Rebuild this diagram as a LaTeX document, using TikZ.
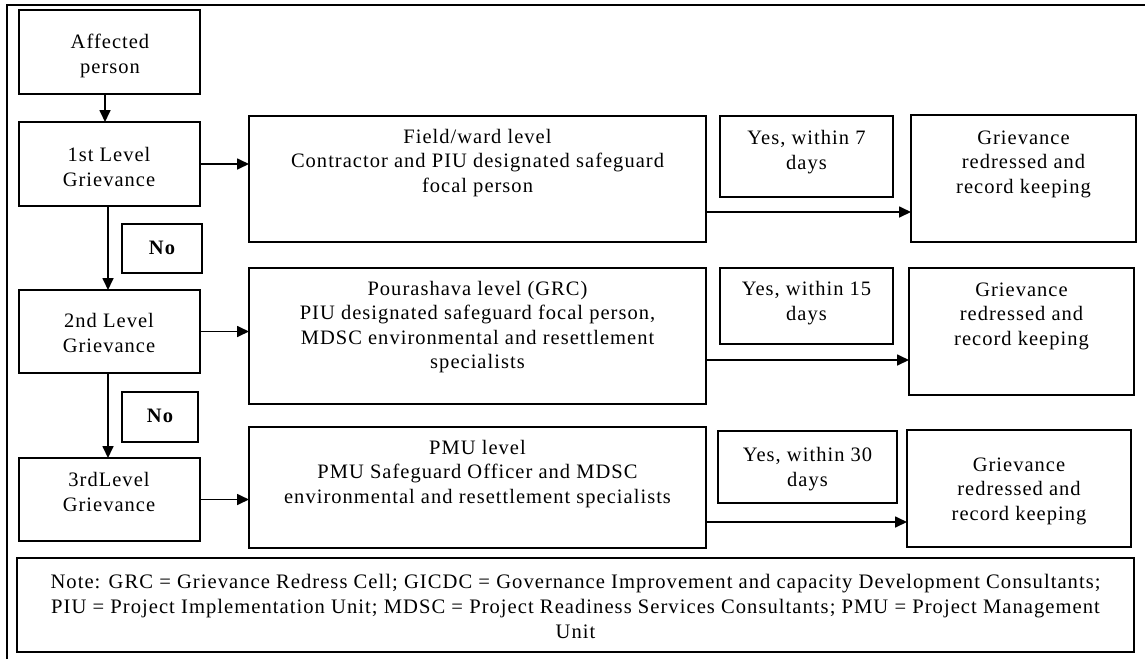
\documentclass[tikz,border=0pt]{standalone}
\usepackage{fontspec}
\setmainfont{Liberation Serif}[LetterSpace=5]
\usetikzlibrary{arrows.meta}
\tikzset{
  box/.style={draw, line width=1.7pt, inner sep=0pt, outer sep=0pt},
  txt/.style={align=center, inner sep=0pt, font=\fontsize{20.5}{24.5}\selectfont},
  notetxt/.style={align=center, inner sep=0pt, font=\fontsize{20.6}{25}\selectfont},
  boldtxt/.style={inner sep=0pt, font=\fontsize{20.5}{24.5}\selectfont\bfseries},
  arr/.style={line width=1.7pt, -{Triangle[length=12pt,width=11pt]}},
  frame/.style={line width=1.3pt},
}
\newcommand\mybox[5]{\node[box, minimum width={(#4-#2)*1pt}, minimum height={(#5-#3)*1pt}] (#1) at ({(#2+#4)/2},{(#3+#5)/2}) {};}
\begin{document}
\begin{tikzpicture}[x=1pt,y=-1pt]
\useasboundingbox (0,0) rectangle (1145,659);
\draw[frame] (7,659) -- (7,5) -- (1145,5);
% left column
\mybox{aff}{19}{10}{200}{94}
\mybox{l1}{19}{122}{200}{206}
\mybox{l2}{19}{290}{200}{373}
\mybox{l3}{19}{458}{200}{541}
\mybox{no1}{122}{224}{202}{273}
\mybox{no2}{122}{392}{198}{442}
% middle column
\mybox{field}{249}{116}{706}{242}
\mybox{pour}{249}{268}{706}{404}
\mybox{pmu}{249}{427}{706}{548}
% yes boxes
\mybox{yes1}{720}{116}{893}{197}
\mybox{yes2}{720}{268}{893}{344}
\mybox{yes3}{718}{431}{897}{503}
% result boxes
\mybox{g1}{911}{115}{1136}{242}
\mybox{g2}{909}{268}{1134}{395}
\mybox{g3}{907}{430}{1131}{547}
% note
\mybox{note}{17}{558}{1134}{652}
% texts
\node[txt] (taff) at (110,56) {Affected\\person};
\node[txt] (tl1) at (109,167) {1st Level\\Grievance};
\node[txt] (tl2) at (109,333) {2nd Level\\Grievance};
\node[txt] (tl3) at (109,492) {3rdLevel\\Grievance};
\node[boldtxt] (tno1) at (162,248) {No};
\node[boldtxt] (tno2) at (160,416) {No};
\node[txt] (tfield) at (477.5,163) {Field/ward level\\Contractor and PIU designated safeguard\\focal person};
\node[txt] (tpour) at (477.5,327) {Pourashava level (GRC)\\PIU designated safeguard focal person,\\MDSC environmental and resettlement\\specialists};
\node[txt] (tpmu) at (477.5,474) {PMU level\\PMU Safeguard Officer and MDSC\\environmental and resettlement specialists};
\node[txt] (tyes1) at (806.5,152) {Yes, within 7\\days};
\node[txt] (tyes2) at (806.5,303) {Yes, within 15\\days};
\node[txt] (tyes3) at (807.5,469) {Yes, within 30\\days};
\node[txt] (tg1) at (1023.5,164) {Grievance\\redressed and\\record keeping};
\node[txt] (tg2) at (1021.5,316) {Grievance\\redressed and\\record keeping};
\node[txt] (tg3) at (1019,491) {Grievance\\redressed and\\record keeping};
\node[notetxt] (tnote) at (575.5,606) {Note: GRC = Grievance Redress Cell; GICDC = Governance Improvement and capacity Development Consultants;\\PIU = Project Implementation Unit; MDSC = Project Readiness Services Consultants; PMU = Project Management\\Unit};
% arrows
\draw[arr] ([xshift=-4.5pt]aff.south) -- ([xshift=-4.5pt]aff.south |- l1.north);
\draw[arr] ([xshift=-1.5pt]l1.south) -- ([xshift=-1.5pt]l1.south |- l2.north);
\draw[arr] ([xshift=-1.5pt]l2.south) -- ([xshift=-1.5pt]l2.south |- l3.north);
\draw[arr] (l1.east) -- (l1.east -| field.west);
\draw[arr] (l2.east) -- (l2.east -| pour.west);
\draw[arr] (l3.east) -- (l3.east -| pmu.west);
\draw[arr] ([yshift=-33pt]field.east) -- ([yshift=-33pt]field.east -| g1.west);
\draw[arr] ([yshift=-24pt]pour.east) -- ([yshift=-24pt]pour.east -| g2.west);
\draw[arr] ([yshift=-34.5pt]pmu.east) -- ([yshift=-34.5pt]pmu.east -| g3.west);
\end{tikzpicture}
\end{document}
